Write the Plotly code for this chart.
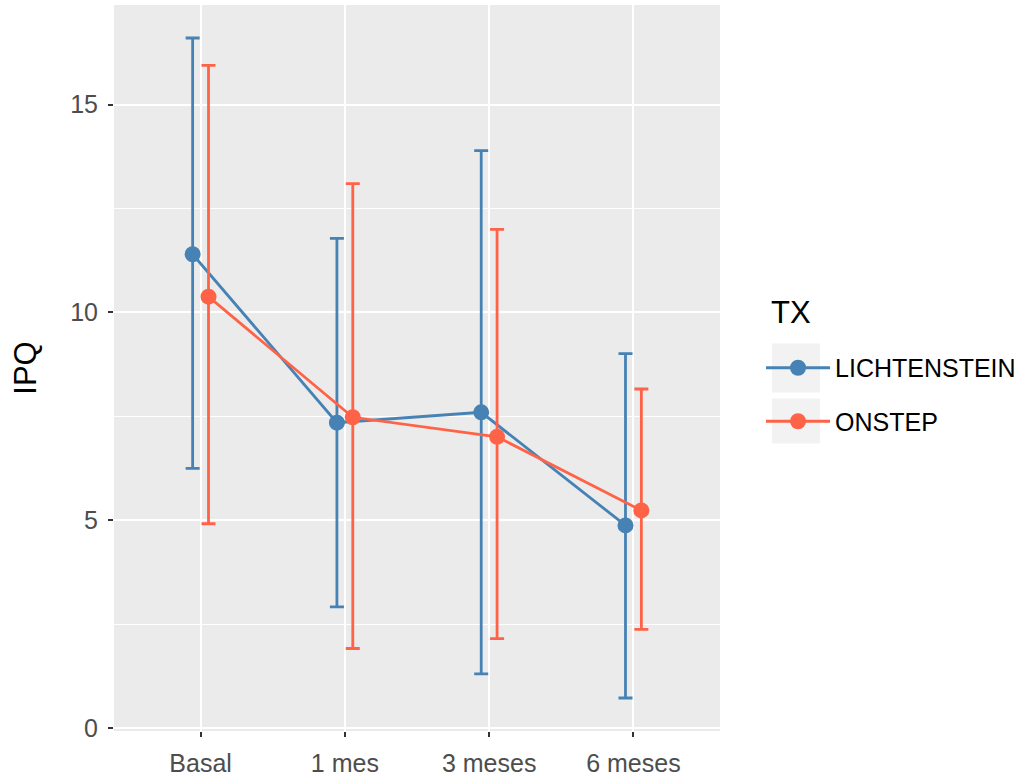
import plotly.graph_objects as go

categories = ["Basal", "1 mes", "3 meses", "6 meses"]
groups = ["LICHTENSTEIN", "ONSTEP"]

lich_mean = [11.40, 7.35, 7.60, 4.88]
lich_upper = [16.60, 11.78, 13.89, 9.01]
lich_lower = [6.25, 2.92, 1.31, 0.73]

onst_mean = [10.38, 7.48, 7.01, 5.24]
onst_upper = [15.94, 13.10, 12.00, 8.16]
onst_lower = [4.92, 1.92, 2.16, 2.38]

colors = {"LICHTENSTEIN": "#4682B4", "ONSTEP": "#FF6347"}
dodge = 0.055

series = {
    "LICHTENSTEIN": (lich_mean, lich_upper, lich_lower, -dodge),
    "ONSTEP": (onst_mean, onst_upper, onst_lower, dodge),
}

fig = go.Figure()
for name in groups:
    mean, up, lo, off = series[name]
    xs = [i + 1 + off for i in range(len(categories))]
    fig.add_trace(go.Scatter(
        x=xs, y=mean, name=name, mode="lines+markers",
        legendgroup=name,
        line=dict(color=colors[name], width=2.8),
        marker=dict(color=colors[name], size=16),
        error_y=dict(type="data", symmetric=False,
                     array=[u - m for u, m in zip(up, mean)],
                     arrayminus=[m - l for m, l in zip(mean, lo)],
                     color=colors[name], thickness=2.8, width=7),
    ))

all_hi = max(lich_upper + onst_upper)
all_lo = min(lich_lower + onst_lower)
span = all_hi - all_lo
yr = [all_lo - 0.05 * span, all_hi + 0.05 * span]

font_family = "Liberation Sans, Arial, sans-serif"

fig.update_layout(
    width=1029, height=778,
    margin=dict(l=114, r=309, t=5, b=47),
    paper_bgcolor="white",
    plot_bgcolor="#EBEBEB",
    font=dict(family=font_family, color="#4D4D4D", size=25),
    showlegend=True,
    legend=dict(
        font=dict(size=25, color="black"),
        x=1.0677, xanchor="left", y=0.5317, yanchor="top",
        bgcolor="rgba(0,0,0,0)",
        tracegroupgap=18,
        itemwidth=64,
    ),
    xaxis=dict(
        range=[0.4, 4.6],
        tickmode="array",
        tickvals=[1, 2, 3, 4],
        ticktext=categories,
        showgrid=True, gridcolor="white", gridwidth=2,
        zeroline=False,
        ticks="outside", ticklen=5, tickwidth=1.5, tickcolor="#333333",
        tickfont=dict(size=25, color="#4D4D4D"),
        ticklabelstandoff=5,
        showline=False,
        automargin=False,
    ),
    yaxis=dict(
        range=yr,
        tickmode="array",
        tickvals=[0, 5, 10, 15],
        showgrid=True, gridcolor="white", gridwidth=2,
        minor=dict(tickvals=[2.5, 7.5, 12.5], showgrid=True,
                   gridcolor="white", gridwidth=1, ticks=""),
        zeroline=False,
        ticks="outside", ticklen=5, tickwidth=1.5, tickcolor="#333333",
        tickfont=dict(size=25, color="#4D4D4D"),
        ticklabelstandoff=5,
        title=dict(text="IPQ", font=dict(size=31, color="black"), standoff=24),
        showline=False,
        automargin=False,
    ),
)

# legend title (ggplot style placement)
fig.add_annotation(text="TX", xref="paper", yref="paper",
                   x=1.081, y=(731 - 313) / 726, xanchor="left", yanchor="middle",
                   showarrow=False, font=dict(size=31, color="black",
                                              family=font_family))

# legend key backgrounds (ggplot style)
for y0, y1 in [(0.4662, 0.5338), (0.3959, 0.4579)]:
    fig.add_shape(type="rect", xref="paper", yref="paper",
                  x0=1.0858, x1=1.165, y0=y0, y1=y1,
                  fillcolor="#F2F2F2", line=dict(width=0), layer="below")

fig.write_html("out.html")
